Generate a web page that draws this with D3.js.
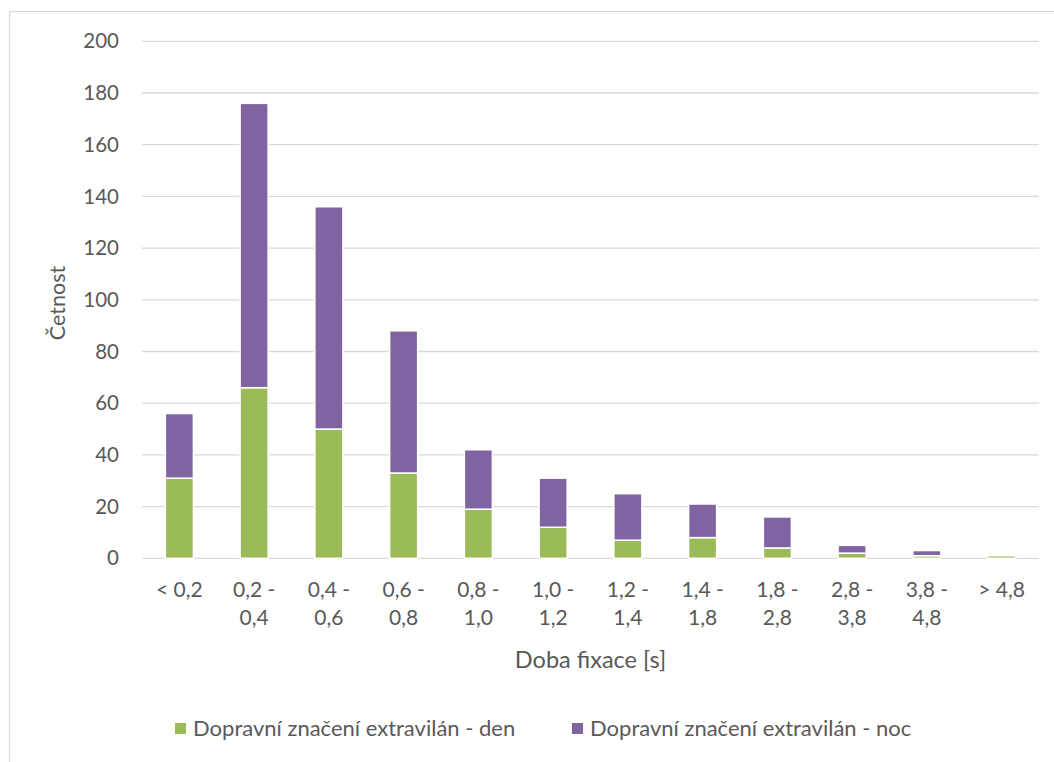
<!DOCTYPE html>
<html>
<head>
<meta charset="utf-8">
<script src="https://cdn.jsdelivr.net/npm/d3@7"></script>
<style>
  html, body { margin: 0; padding: 0; background: #fff; }
  svg { display: block; }
  text { font-family: Lato, "Liberation Sans", sans-serif; fill: #595959; }
</style>
</head>
<body>
<svg id="chart" width="1054" height="762"></svg>
<script>
const categories = [
  ["< 0,2"], ["0,2 -", "0,4"], ["0,4 -", "0,6"], ["0,6 -", "0,8"], ["0,8 -", "1,0"],
  ["1,0 -", "1,2"], ["1,2 -", "1,4"], ["1,4 -", "1,8"], ["1,8 -", "2,8"],
  ["2,8 -", "3,8"], ["3,8 -", "4,8"], ["> 4,8"]
];
const seriesNames = ["Dopravní značení extravilán - den", "Dopravní značení extravilán - noc"];
const denValues = [31, 66, 50, 33, 19, 12, 7, 8, 4, 2, 1, 1];
const nocValues = [25, 110, 86, 55, 23, 19, 18, 13, 12, 3, 2, 0];
const yTicks = [0, 20, 40, 60, 80, 100, 120, 140, 160, 180, 200];
const colors = ["#9BBB59", "#8064A2"];
const yTitle = "Četnost";
const xTitle = "Doba fixace [s]";

const svg = d3.select("#chart");

// outer chart border
svg.append("rect").attr("x", 9.5).attr("y", 11.5).attr("width", 1100).attr("height", 800)
  .attr("fill", "none").attr("stroke", "#D9D9D9").attr("stroke-width", 1.2);

const pLeft = 142, pRight = 1039, pTop = 41.3, pBottom = 558.3;

const x = d3.scaleBand().domain(d3.range(categories.length)).range([pLeft, pRight])
  .paddingInner(0.625).paddingOuter(0.3125);
const y = d3.scaleLinear().domain([0, 200]).range([pBottom, pTop]);

// gridlines
svg.append("g").selectAll("line").data(yTicks).join("line")
  .attr("x1", pLeft).attr("x2", pRight)
  .attr("y1", d => y(d)).attr("y2", d => y(d))
  .attr("stroke", "#D9D9D9").attr("stroke-width", 1.3);

// y tick labels
svg.append("g").selectAll("text").data(yTicks).join("text")
  .attr("x", 119).attr("y", d => y(d)).attr("dy", "0.35em")
  .attr("text-anchor", "end").attr("font-size", 20.5).text(d => d);

// stacked bars
const rows = categories.map((c, i) => ({ i, den: denValues[i], noc: nocValues[i] }));
const stack = d3.stack().keys(["den", "noc"])(rows);
svg.append("g").selectAll("g").data(stack).join("g")
  .attr("fill", (d, k) => colors[k])
  .selectAll("rect").data(d => d.filter(s => s[1] - s[0] > 0)).join("rect")
  .attr("x", d => x(d.data.i))
  .attr("width", x.bandwidth())
  .attr("y", d => y(d[1]))
  .attr("height", d => y(d[0]) - y(d[1]))
  .attr("stroke", "#fff").attr("stroke-width", 1.5);

// x tick labels
const xl = svg.append("g").selectAll("text").data(categories).join("text")
  .attr("x", (d, i) => x(i) + x.bandwidth() / 2)
  .attr("y", 597).attr("text-anchor", "middle").attr("font-size", 21);
xl.selectAll("tspan").data(d => d).join("tspan")
  .attr("x", function() { return this.parentNode.getAttribute("x"); })
  .attr("dy", (d, j) => j === 0 ? 0 : 28)
  .text(d => d);

// axis titles
svg.append("text").attr("x", (pLeft + pRight) / 2).attr("y", 668)
  .attr("text-anchor", "middle").attr("font-size", 23.5).text(xTitle);
svg.append("text").attr("transform", "translate(65,303) rotate(-90)")
  .attr("text-anchor", "middle").attr("font-size", 21.5).text(yTitle);

// legend
const legendX = [175, 572];
const lg = svg.append("g").selectAll("g").data(seriesNames).join("g")
  .attr("transform", (d, i) => `translate(${legendX[i]},723)`);
lg.append("rect").attr("width", 11).attr("height", 11).attr("fill", (d, i) => colors[i]);
lg.append("text").attr("x", 18).attr("y", 13).attr("font-size", 22).text(d => d);
</script>
</body>
</html>
